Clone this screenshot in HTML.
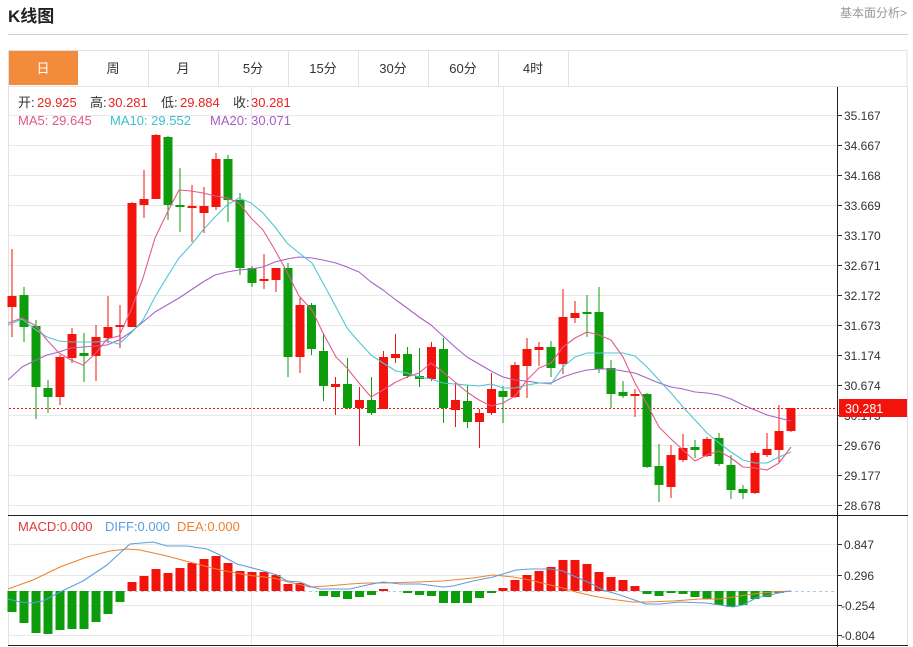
<!DOCTYPE html>
<html><head><meta charset="utf-8"><style>
html,body{margin:0;padding:0;background:#fff;width:913px;height:647px;overflow:hidden}
svg{display:block}
text{font-family:"Liberation Sans","Noto Sans CJK SC",sans-serif}
</style></head><body>
<svg width="913" height="647" viewBox="0 0 913 647" xmlns="http://www.w3.org/2000/svg">
<rect width="913" height="647" fill="#fff"/>
<text x="8" y="22" font-size="17" font-weight="bold" fill="#222">K线图</text>
<text x="840" y="17" font-size="12" fill="#999">基本面分析&gt;</text>
<line x1="8" y1="34.5" x2="908" y2="34.5" stroke="#cfcfcf"/>
<!-- tabs -->
<rect x="8.5" y="50.5" width="898.5" height="36" fill="#fff" stroke="#e2e2e2"/>
<rect x="9" y="51" width="69" height="34" fill="#f28b3b"/>
<g stroke="#e2e2e2">
<line x1="148.5" y1="51" x2="148.5" y2="86"/><line x1="218.5" y1="51" x2="218.5" y2="86"/>
<line x1="288.5" y1="51" x2="288.5" y2="86"/><line x1="358.5" y1="51" x2="358.5" y2="86"/>
<line x1="428.5" y1="51" x2="428.5" y2="86"/><line x1="498.5" y1="51" x2="498.5" y2="86"/>
<line x1="568.5" y1="51" x2="568.5" y2="86"/>
</g>
<g font-size="13" fill="#333" text-anchor="middle">
<text x="43" y="73" fill="#fff">日</text>
<text x="113" y="73">周</text><text x="183" y="73">月</text><text x="253" y="73">5分</text>
<text x="323" y="73">15分</text><text x="393" y="73">30分</text><text x="463" y="73">60分</text><text x="533" y="73">4时</text>
</g>
<!-- chart frame -->
<line x1="8.5" y1="86" x2="8.5" y2="646" stroke="#e2e2e2"/>
<line x1="907.5" y1="86" x2="907.5" y2="646" stroke="#e2e2e2"/>
<!-- grid -->
<g stroke="#e9e9e9">
<line x1="9" y1="115.5" x2="837" y2="115.5"/><line x1="9" y1="145.5" x2="837" y2="145.5"/>
<line x1="9" y1="175.5" x2="837" y2="175.5"/><line x1="9" y1="205.5" x2="837" y2="205.5"/>
<line x1="9" y1="235.5" x2="837" y2="235.5"/><line x1="9" y1="265.5" x2="837" y2="265.5"/>
<line x1="9" y1="295.5" x2="837" y2="295.5"/><line x1="9" y1="325.5" x2="837" y2="325.5"/>
<line x1="9" y1="355.5" x2="837" y2="355.5"/><line x1="9" y1="385.5" x2="837" y2="385.5"/>
<line x1="9" y1="415.5" x2="837" y2="415.5"/><line x1="9" y1="445.5" x2="837" y2="445.5"/>
<line x1="9" y1="475.5" x2="837" y2="475.5"/><line x1="9" y1="505.5" x2="837" y2="505.5"/>
<line x1="9" y1="544.5" x2="837" y2="544.5"/><line x1="9" y1="575.5" x2="837" y2="575.5"/>
<line x1="9" y1="605.5" x2="837" y2="605.5"/><line x1="9" y1="635.5" x2="837" y2="635.5"/>
</g>
<g stroke="#e3e8ee">
<line x1="251.5" y1="87" x2="251.5" y2="645"/><line x1="503.5" y1="87" x2="503.5" y2="645"/>
</g>
<!-- price dashed line -->
<line x1="9" y1="408.5" x2="837" y2="408.5" stroke="#f2140c" stroke-dasharray="2,2"/>
<!-- candles red -->
<g fill="#f2140c">
<rect x="11.5" y="249" width="1" height="88"/><rect x="7.5" y="296" width="9" height="11"/>
<rect x="59.5" y="355" width="1" height="50"/><rect x="55.5" y="357" width="9" height="40"/>
<rect x="71.5" y="328" width="1" height="35"/><rect x="67.5" y="334" width="9" height="24"/>
<rect x="95.5" y="325" width="1" height="56"/><rect x="91.5" y="337" width="9" height="19"/>
<rect x="107.5" y="296" width="1" height="47"/><rect x="103.5" y="327" width="9" height="11"/>
<rect x="119.5" y="305" width="1" height="43"/><rect x="115.5" y="325" width="9" height="2"/>
<rect x="131.5" y="202" width="1" height="125"/><rect x="127.5" y="203" width="9" height="124"/>
<rect x="143.5" y="170" width="1" height="48"/><rect x="139.5" y="199" width="9" height="6"/>
<rect x="155.5" y="134" width="1" height="65"/><rect x="151.5" y="135" width="9" height="64"/>
<rect x="191.5" y="185" width="1" height="57"/><rect x="187.5" y="206" width="9" height="2"/>
<rect x="203.5" y="187" width="1" height="46"/><rect x="199.5" y="206" width="9" height="7"/>
<rect x="215.5" y="153" width="1" height="57"/><rect x="211.5" y="159" width="9" height="48"/>
<rect x="263.5" y="254" width="1" height="35"/><rect x="259.5" y="279" width="9" height="2"/>
<rect x="275.5" y="268" width="1" height="24"/><rect x="271.5" y="268" width="9" height="12"/>
<rect x="299.5" y="298" width="1" height="75"/><rect x="295.5" y="305" width="9" height="52"/>
<rect x="335" y="377" width="1" height="38"/><rect x="331" y="384" width="9" height="3"/>
<rect x="359" y="387" width="1" height="59"/><rect x="355" y="400" width="9" height="8"/>
<rect x="383" y="351" width="1" height="58"/><rect x="379" y="357" width="9" height="52"/>
<rect x="395" y="334" width="1" height="29"/><rect x="391" y="354" width="9" height="4"/>
<rect x="431" y="342" width="1" height="39"/><rect x="427" y="347" width="9" height="32"/>
<rect x="455" y="383" width="1" height="44"/><rect x="451" y="400" width="9" height="10"/>
<rect x="479" y="409" width="1" height="39"/><rect x="475" y="413" width="9" height="9"/>
<rect x="491" y="373" width="1" height="42"/><rect x="487" y="389" width="9" height="24"/>
<rect x="514.5" y="362" width="1" height="36"/><rect x="510.5" y="365" width="9" height="32"/>
<rect x="526.5" y="338" width="1" height="60"/><rect x="522.5" y="349" width="9" height="17"/>
<rect x="538.5" y="342" width="1" height="24"/><rect x="534.5" y="347" width="9" height="3"/>
<rect x="562.5" y="289" width="1" height="85"/><rect x="558.5" y="317" width="9" height="47"/>
<rect x="574.5" y="301" width="1" height="22"/><rect x="570.5" y="313" width="9" height="5"/>
<rect x="634.5" y="389" width="1" height="28"/><rect x="630.5" y="394" width="9" height="2"/>
<rect x="670.5" y="445" width="1" height="53"/><rect x="666.5" y="455" width="9" height="32"/>
<rect x="682.5" y="434" width="1" height="28"/><rect x="678.5" y="448" width="9" height="12"/>
<rect x="706.5" y="437" width="1" height="20"/><rect x="702.5" y="439" width="9" height="17"/>
<rect x="754.5" y="451" width="1" height="43"/><rect x="750.5" y="453" width="9" height="40"/>
<rect x="766.5" y="433" width="1" height="24"/><rect x="762.5" y="449" width="9" height="6"/>
<rect x="778.5" y="405" width="1" height="57"/><rect x="774.5" y="431" width="9" height="19"/>
<rect x="790.5" y="408" width="1" height="24"/><rect x="786.5" y="408" width="9" height="23"/>
</g>
<!-- candles green -->
<g fill="#0c9c0c">
<rect x="23.5" y="287" width="1" height="55"/><rect x="19.5" y="295" width="9" height="32"/>
<rect x="35.5" y="320" width="1" height="99"/><rect x="31.5" y="326" width="9" height="61"/>
<rect x="47.5" y="380" width="1" height="33"/><rect x="43.5" y="388" width="9" height="9"/>
<rect x="83.5" y="333" width="1" height="49"/><rect x="79.5" y="353" width="9" height="3"/>
<rect x="167.5" y="136" width="1" height="84"/><rect x="163.5" y="137" width="9" height="68"/>
<rect x="179.5" y="168" width="1" height="64"/><rect x="175.5" y="205" width="9" height="2"/>
<rect x="227.5" y="155" width="1" height="67"/><rect x="223.5" y="159" width="9" height="41"/>
<rect x="239.5" y="193" width="1" height="82"/><rect x="235.5" y="200" width="9" height="68"/>
<rect x="251.5" y="266" width="1" height="21"/><rect x="247.5" y="268" width="9" height="15"/>
<rect x="287.5" y="263" width="1" height="114"/><rect x="283.5" y="268" width="9" height="89"/>
<rect x="311" y="303" width="1" height="52"/><rect x="307" y="305" width="9" height="44"/>
<rect x="323" y="333" width="1" height="68"/><rect x="319" y="351" width="9" height="35"/>
<rect x="347" y="358" width="1" height="51"/><rect x="343" y="384" width="9" height="24"/>
<rect x="371" y="377" width="1" height="38"/><rect x="367" y="400" width="9" height="13"/>
<rect x="407" y="347" width="1" height="31"/><rect x="403" y="354" width="9" height="22"/>
<rect x="419" y="348" width="1" height="39"/><rect x="415" y="376" width="9" height="3"/>
<rect x="443" y="338" width="1" height="85"/><rect x="439" y="349" width="9" height="59"/>
<rect x="467" y="385" width="1" height="43"/><rect x="463" y="401" width="9" height="21"/>
<rect x="502.5" y="386" width="1" height="37"/><rect x="498.5" y="391" width="9" height="6"/>
<rect x="550.5" y="341" width="1" height="36"/><rect x="546.5" y="347" width="9" height="21"/>
<rect x="586.5" y="295" width="1" height="42"/><rect x="582.5" y="312" width="9" height="2"/>
<rect x="598.5" y="287" width="1" height="86"/><rect x="594.5" y="312" width="9" height="57"/>
<rect x="610.5" y="360" width="1" height="48"/><rect x="606.5" y="368" width="9" height="26"/>
<rect x="622.5" y="381" width="1" height="17"/><rect x="618.5" y="392" width="9" height="4"/>
<rect x="646.5" y="393" width="1" height="75"/><rect x="642.5" y="394" width="9" height="73"/>
<rect x="658.5" y="444" width="1" height="58"/><rect x="654.5" y="466" width="9" height="19"/>
<rect x="694.5" y="440" width="1" height="18"/><rect x="690.5" y="447" width="9" height="3"/>
<rect x="718.5" y="433" width="1" height="33"/><rect x="714.5" y="438" width="9" height="26"/>
<rect x="730.5" y="455" width="1" height="44"/><rect x="726.5" y="465" width="9" height="25"/>
<rect x="742.5" y="485" width="1" height="14"/><rect x="738.5" y="489" width="9" height="4"/>
</g>
<!-- MA lines -->
<g fill="none" stroke-width="1.1" stroke-linejoin="round">
<polyline stroke="#a862c6" points="8,380 22,367 36,360 47,355 59,352 71,348 83,347 96,346 107,345 119,340 131,332 143,322 155,312 167,305 179,298 191,290 203,282 215,275 227,272 239,270 251,269 263,267 275,262 287,259 299,257 312,258 323,260 336,263 347,267 359,272 371,282 383,290 396,300 407,308 419,317 431,325 443,336 455,347 467,357 479,364 491,371 503,377 515,380 527,381 539,383 551,383 563,377 575,373 587,370 599,369 611,369 623,371 635,373 647,378 659,383 671,387 683,389 695,392 707,393 719,395 731,399 743,405 755,410 767,415 779,418 791,421"/>
<polyline stroke="#4fc6d4" points="8,325 22,319 36,330 47,337 59,341 71,342 83,342 96,342 107,341 119,344 131,333 143,320 155,297 167,277 179,258 191,245 203,230 215,217 227,205 239,198 251,203 263,213 275,227 287,243 299,253 312,263 323,283 336,307 347,328 359,342 371,355 383,363 396,371 407,373 419,377 431,379 443,383 455,384 467,385 479,386 491,384 503,388 515,388 527,385 539,383 551,384 563,367 575,357 587,353 599,353 611,353 623,353 635,356 647,367 659,380 671,393 683,407 695,420 707,433 719,443 731,452 743,460 755,463 767,463 779,457 791,452"/>
<polyline stroke="#e45a8c" points="8,323 22,318 36,326 47,340 59,353 71,360 83,365 96,353 107,339 119,336 131,310 143,278 155,238 167,213 179,190 191,191 203,193 215,196 227,198 239,203 251,218 263,230 275,250 287,272 299,296 312,310 323,333 336,357 347,368 359,383 371,397 383,390 396,382 407,377 419,373 431,363 443,372 455,382 467,392 479,400 491,406 503,403 515,396 527,380 539,368 551,363 563,347 575,338 587,332 599,335 611,340 623,357 635,383 647,404 659,427 671,439 683,450 695,461 707,455 719,451 731,458 743,467 755,468 767,470 779,463 791,447"/>
</g>
<!-- legend -->
<g font-size="13">
<text x="18" y="107" fill="#333">开:</text><text x="37" y="107" fill="#e8231e">29.925</text>
<text x="90" y="107" fill="#333">高:</text><text x="108" y="107" fill="#e8231e">30.281</text>
<text x="161" y="107" fill="#333">低:</text><text x="180" y="107" fill="#e8231e">29.884</text>
<text x="233" y="107" fill="#333">收:</text><text x="251" y="107" fill="#e8231e">30.281</text>
<text x="18" y="125" fill="#e4568a">MA5: 29.645</text>
<text x="110" y="125" fill="#3cbfd0">MA10: 29.552</text>
<text x="210" y="125" fill="#a55ec5">MA20: 30.071</text>
</g>
<!-- axes -->
<line x1="837.5" y1="87" x2="837.5" y2="647" stroke="#222"/>
<line x1="8" y1="515.5" x2="908" y2="515.5" stroke="#222"/>
<line x1="8" y1="645.5" x2="908" y2="645.5" stroke="#222"/>
<g stroke="#333">
<line x1="837" y1="115.5" x2="842" y2="115.5"/><line x1="837" y1="145.5" x2="842" y2="145.5"/>
<line x1="837" y1="175.5" x2="842" y2="175.5"/><line x1="837" y1="205.5" x2="842" y2="205.5"/>
<line x1="837" y1="235.5" x2="842" y2="235.5"/><line x1="837" y1="265.5" x2="842" y2="265.5"/>
<line x1="837" y1="295.5" x2="842" y2="295.5"/><line x1="837" y1="325.5" x2="842" y2="325.5"/>
<line x1="837" y1="355.5" x2="842" y2="355.5"/><line x1="837" y1="385.5" x2="842" y2="385.5"/>
<line x1="837" y1="415.5" x2="842" y2="415.5"/><line x1="837" y1="445.5" x2="842" y2="445.5"/>
<line x1="837" y1="475.5" x2="842" y2="475.5"/><line x1="837" y1="505.5" x2="842" y2="505.5"/>
<line x1="837" y1="544.5" x2="842" y2="544.5"/><line x1="837" y1="575.5" x2="842" y2="575.5"/>
<line x1="837" y1="605.5" x2="842" y2="605.5"/><line x1="837" y1="635.5" x2="842" y2="635.5"/>
</g>
<g font-size="12" fill="#333">
<text x="844" y="120">35.167</text><text x="844" y="150">34.667</text><text x="844" y="180">34.168</text>
<text x="844" y="210">33.669</text><text x="844" y="240">33.170</text><text x="844" y="270">32.671</text>
<text x="844" y="300">32.172</text><text x="844" y="330">31.673</text><text x="844" y="360">31.174</text>
<text x="844" y="390">30.674</text><text x="844" y="420">30.175</text><text x="844" y="450">29.676</text>
<text x="844" y="480">29.177</text><text x="844" y="510">28.678</text>
<text x="844" y="549">0.847</text><text x="844" y="580">0.296</text>
<text x="841" y="610">-0.254</text><text x="841" y="640">-0.804</text>
</g>
<rect x="839" y="399" width="68" height="18" fill="#f2140c"/>
<text x="845" y="413" font-size="12.5" fill="#fff">30.281</text>
<!-- MACD -->
<line x1="9" y1="591.5" x2="837" y2="591.5" stroke="#a9cde8" stroke-dasharray="3,3"/>
<g fill="#f2140c">
<rect x="127.5" y="582" width="9" height="9"/><rect x="139.5" y="576" width="9" height="15"/>
<rect x="151.5" y="569" width="9" height="22"/><rect x="163.5" y="573" width="9" height="18"/>
<rect x="175.5" y="568" width="9" height="23"/><rect x="187.5" y="563" width="9" height="28"/>
<rect x="199.5" y="559" width="9" height="32"/><rect x="211.5" y="556" width="9" height="35"/>
<rect x="223.5" y="563" width="9" height="28"/><rect x="235.5" y="571" width="9" height="20"/>
<rect x="247.5" y="572" width="9" height="19"/><rect x="259.5" y="572" width="9" height="19"/>
<rect x="271.5" y="575" width="9" height="16"/><rect x="283.5" y="584" width="9" height="7"/>
<rect x="295.5" y="583" width="9" height="8"/><rect x="379" y="589" width="9" height="2"/>
<rect x="498.5" y="588" width="9" height="3"/><rect x="510.5" y="580" width="9" height="11"/>
<rect x="522.5" y="575" width="9" height="16"/><rect x="534.5" y="571" width="9" height="20"/>
<rect x="546.5" y="567" width="9" height="24"/><rect x="558.5" y="560" width="9" height="31"/>
<rect x="570.5" y="560" width="9" height="31"/><rect x="582.5" y="564" width="9" height="27"/>
<rect x="594.5" y="572" width="9" height="19"/><rect x="606.5" y="577" width="9" height="14"/>
<rect x="618.5" y="580" width="9" height="11"/><rect x="630.5" y="586" width="9" height="5"/>
</g>
<g fill="#0c9c0c">
<rect x="7.5" y="591" width="9" height="21"/><rect x="19.5" y="591" width="9" height="32"/>
<rect x="31.5" y="591" width="9" height="42"/><rect x="43.5" y="591" width="9" height="43"/>
<rect x="55.5" y="591" width="9" height="39"/><rect x="67.5" y="591" width="9" height="38"/>
<rect x="79.5" y="591" width="9" height="38"/><rect x="91.5" y="591" width="9" height="31"/>
<rect x="103.5" y="591" width="9" height="23"/><rect x="115.5" y="591" width="9" height="11"/>
<rect x="319" y="591" width="9" height="5"/><rect x="331" y="591" width="9" height="6"/>
<rect x="343" y="591" width="9" height="8"/><rect x="355" y="591" width="9" height="6"/>
<rect x="367" y="591" width="9" height="4"/><rect x="403" y="591" width="9" height="2"/>
<rect x="415" y="591" width="9" height="4"/><rect x="427" y="591" width="9" height="5"/>
<rect x="439" y="591" width="9" height="12"/><rect x="451" y="591" width="9" height="12"/>
<rect x="463" y="591" width="9" height="12"/><rect x="475" y="591" width="9" height="7"/>
<rect x="487" y="591" width="9" height="2"/>
<rect x="642.5" y="591" width="9" height="3"/><rect x="654.5" y="591" width="9" height="5"/>
<rect x="666.5" y="591" width="9" height="2"/><rect x="678.5" y="591" width="9" height="3"/>
<rect x="690.5" y="591" width="9" height="6"/><rect x="702.5" y="591" width="9" height="8"/>
<rect x="714.5" y="591" width="9" height="14"/><rect x="726.5" y="591" width="9" height="16"/>
<rect x="738.5" y="591" width="9" height="14"/><rect x="750.5" y="591" width="9" height="8"/>
<rect x="762.5" y="591" width="9" height="6"/><rect x="774.5" y="591" width="9" height="2"/>
</g>
<g fill="none" stroke-width="1.1" stroke-linejoin="round">
<polyline stroke="#f0812e" points="8,589 33,580 60,567 87,557 110,551 127,549 140,550 167,556 193,563 220,570 247,575 273,578 293,583 310,587 327,586 350,584 367,583 383,583 417,582 443,581 453,580 473,578 493,575 513,577 530,580 550,585 563,588 576,592 593,596 610,599 633,602 647,602 673,601 700,599 720,599 733,597 753,594 773,592 791,591"/>
<polyline stroke="#5c9de0" points="8,599 20,602 32,603 43,601 60,592 83,581 107,565 120,553 130,544 153,542 167,546 187,546 207,549 220,555 237,564 260,570 277,575 287,581 300,582 312,587 320,589 350,589 367,585 383,582 400,584 420,584 443,587 453,586 473,581 493,577 503,574 516,570 530,569 550,569 563,571 576,577 590,583 603,590 620,595 646,604 660,604 680,602 706,603 720,605 733,607 743,605 756,598 770,595 783,592 791,591"/>
</g>
<g font-size="13">
<text x="18" y="531" fill="#e03a3a">MACD:0.000</text>
<text x="105" y="531" fill="#5c9de0">DIFF:0.000</text>
<text x="177" y="531" fill="#f0812e">DEA:0.000</text>
</g>
</svg>
</body></html>
